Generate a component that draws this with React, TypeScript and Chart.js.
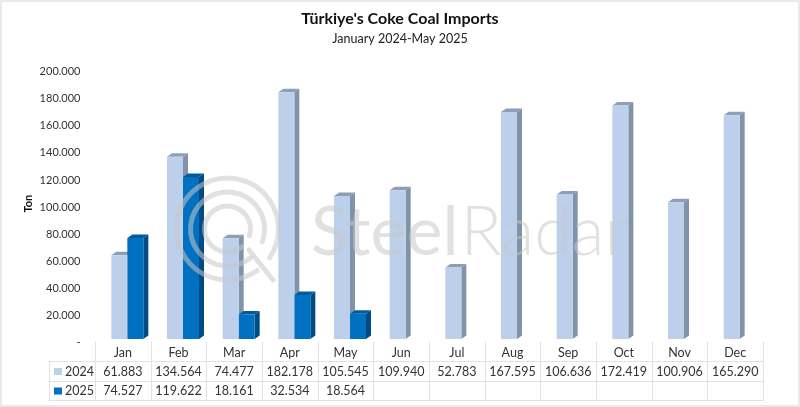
import React, { useEffect, useRef } from "react";
import { Chart, registerables } from "chart.js";

Chart.register(...registerables);

const months = ["Jan", "Feb", "Mar", "Apr", "May", "Jun", "Jul", "Aug", "Sep", "Oct", "Nov", "Dec"];
const values2024 = [61883, 134564, 74477, 182178, 105545, 109940, 52783, 167595, 106636, 172419, 100906, 165290];
const values2025: (number | null)[] = [74527, 119622, 18161, 32534, 18564, null, null, null, null, null, null, null];
const seriesNames = ["2024", "2025"];
const titleText = "Türkiye's Coke Coal Imports";
const subtitleText = "January 2024-May 2025";
const axisTitle = "Ton";
const watermarkBold = "Steel";
const watermarkThin = "Radar";

const FONT = "Lato, Carlito, 'Open Sans', sans-serif";
const fmt = (v: number | null) => (v == null ? "" : v === 0 ? "-" : v.toString().replace(/\B(?=(\d{3})+(?!\d))/g, "."));

const faces = [
  { front: "#bccfeb", top: "#8d9fb8", side: "#8193a9", swatch: "#bccfeb" },
  { front: "#0070c0", top: "#005c9f", side: "#004b83", swatch: "#0070c0" },
];
const DX = 5;
const DY = 3.5;
const TABLE_SHIFT = 4.5;

const cube = {
  id: "cube",
  beforeDraw(chart: any) {
    const { ctx, width, height } = chart;
    ctx.save();
    ctx.fillStyle = "#fff";
    ctx.fillRect(0, 0, width, height);
    ctx.strokeStyle = "#e3e3e3";
    ctx.lineWidth = 1.5;
    ctx.strokeRect(1, 1, width - 2, height - 2);
    ctx.restore();
  },
  // Side and top faces of 2024, then of 2025; the front faces are drawn over them by the library.
  beforeDatasetsDraw(chart: any) {
    const { ctx } = chart;
    ctx.save();
    [0, 1].forEach((index) => {
      const f = faces[index];
      chart.getDatasetMeta(index).data.forEach((bar: any, i: number) => {
        if (chart.data.datasets[index].data[i] == null) return;
        const l = bar.x - bar.width / 2;
        const r = bar.x + bar.width / 2;
        const t = bar.y;
        const b = bar.base;
        ctx.fillStyle = f.top;
        ctx.beginPath();
        ctx.moveTo(l, t);
        ctx.lineTo(l + DX, t - DY);
        ctx.lineTo(r + DX, t - DY);
        ctx.lineTo(r, t);
        ctx.closePath();
        ctx.fill();
        ctx.fillStyle = f.side;
        ctx.beginPath();
        ctx.moveTo(r, t);
        ctx.lineTo(r + DX, t - DY);
        ctx.lineTo(r + DX, b - DY);
        ctx.lineTo(r, b);
        ctx.closePath();
        ctx.fill();
      });
    });
    ctx.restore();
  },
  afterDraw(chart: any) {
    const { ctx } = chart;
    const x = chart.scales.x;
    const step = x.getPixelForValue(1) - x.getPixelForValue(0);
    const left = x.getPixelForValue(0) - step / 2 - TABLE_SHIFT;
    const right = left + step * months.length;
    const legendLeft = 49;
    const rows = [342, 361, 381, 400];
    ctx.save();

    // watermark
    ctx.globalAlpha = 0.55;
    ctx.strokeStyle = "#c9c9c9";
    ctx.lineCap = "round";
    const cx = 227.5;
    const cy = 229;
    ctx.lineWidth = 5;
    [[51, 0.95, 0.6], [37, 0.9, 0.35], [23, 0.9, 0.3]].forEach(([r, a, e]) => {
      ctx.beginPath();
      ctx.arc(cx, cy, r, a, e);
      ctx.stroke();
    });
    ctx.beginPath();
    ctx.moveTo(249, 250);
    ctx.lineTo(273, 280);
    ctx.stroke();
    ctx.fillStyle = "#c9c9c9";
    ctx.textAlign = "left";
    ctx.textBaseline = "alphabetic";
    ctx.font = `400 68px ${FONT}`;
    ctx.fillText(watermarkBold, 311, 255);
    const w = ctx.measureText(watermarkBold).width;
    ctx.font = `300 68px ${FONT}`;
    ctx.fillText(watermarkThin, 311 + w + 2, 255);
    ctx.globalAlpha = 1;

    // data table
    ctx.strokeStyle = "#e2e2e2";
    ctx.lineWidth = 1;
    ctx.beginPath();
    for (let i = 0; i <= months.length; i++) {
      const px = Math.round(left + step * i) + 0.5;
      ctx.moveTo(px, rows[0]);
      ctx.lineTo(px, rows[3]);
    }
    ctx.moveTo(legendLeft + 0.5, rows[1]);
    ctx.lineTo(legendLeft + 0.5, rows[3]);
    [1, 2, 3].forEach((k) => {
      ctx.moveTo(legendLeft, rows[k] + 0.5);
      ctx.lineTo(right, rows[k] + 0.5);
    });
    ctx.stroke();

    ctx.fillStyle = "#333";
    ctx.font = `12.5px ${FONT}`;
    ctx.textBaseline = "middle";
    ctx.textAlign = "center";
    const center = (i: number) => left + step * (i + 0.5);
    months.forEach((m, i) => ctx.fillText(m, center(i), 353));
    [values2024, values2025].forEach((vals, k) => {
      const y = 371.5 + k * 19.5;
      vals.forEach((v, i) => ctx.fillText(fmt(v), center(i), y));
      ctx.textAlign = "left";
      ctx.fillText(seriesNames[k], 65, y);
      ctx.textAlign = "center";
      ctx.fillStyle = faces[k].swatch;
      ctx.fillRect(54, y - 3.5, 8, 7);
      ctx.fillStyle = "#333";
    });
    ctx.restore();
  },
};

export default function App() {
  const ref = useRef<HTMLCanvasElement>(null);
  useEffect(() => {
    const chart = new Chart(ref.current!, {
      type: "bar",
      data: {
        labels: months,
        datasets: [
          { label: seriesNames[0], data: values2024, backgroundColor: faces[0].front, categoryPercentage: 0.575, barPercentage: 1 },
          { label: seriesNames[1], data: values2025, backgroundColor: faces[1].front, categoryPercentage: 0.575, barPercentage: 1 },
        ],
      },
      options: {
        responsive: false,
        animation: false,
        devicePixelRatio: 1,
        layout: { padding: { left: 32.5, right: 32.5, top: 0, bottom: 68 } },
        plugins: {
          legend: { display: false },
          tooltip: { enabled: false },
          title: {
            display: true,
            text: titleText,
            color: "#111",
            font: { family: FONT, size: 16, weight: "bold" },
            padding: { top: 9, bottom: 2 },
          },
          subtitle: {
            display: true,
            text: subtitleText,
            color: "#222",
            font: { family: FONT, size: 12.5, weight: "normal" },
            padding: { top: 1, bottom: 22 },
          },
        },
        scales: {
          x: { display: false, grid: { display: false } },
          y: {
            min: 0,
            max: 200000,
            border: { display: false },
            grid: { display: false },
            title: {
              display: true,
              text: axisTitle,
              color: "#111",
              font: { family: FONT, size: 11, weight: "bold" },
              padding: { top: -10.5, bottom: 0 },
            },
            ticks: {
              stepSize: 20000,
              padding: 11,
              labelOffset: 3.5,
              color: "#333",
              font: { family: FONT, size: 11 },
              callback: (v: any) => fmt(Number(v)),
            },
            afterFit: (s: any) => {
              s.width = 67;
            },
          },
        },
      },
      plugins: [cube],
    } as any);
    return () => chart.destroy();
  }, []);
  return (
    <canvas
      ref={ref}
      width={800}
      height={407}
      style={{ position: "absolute", left: 0, top: 0, width: 800, height: 407 }}
    />
  );
}
